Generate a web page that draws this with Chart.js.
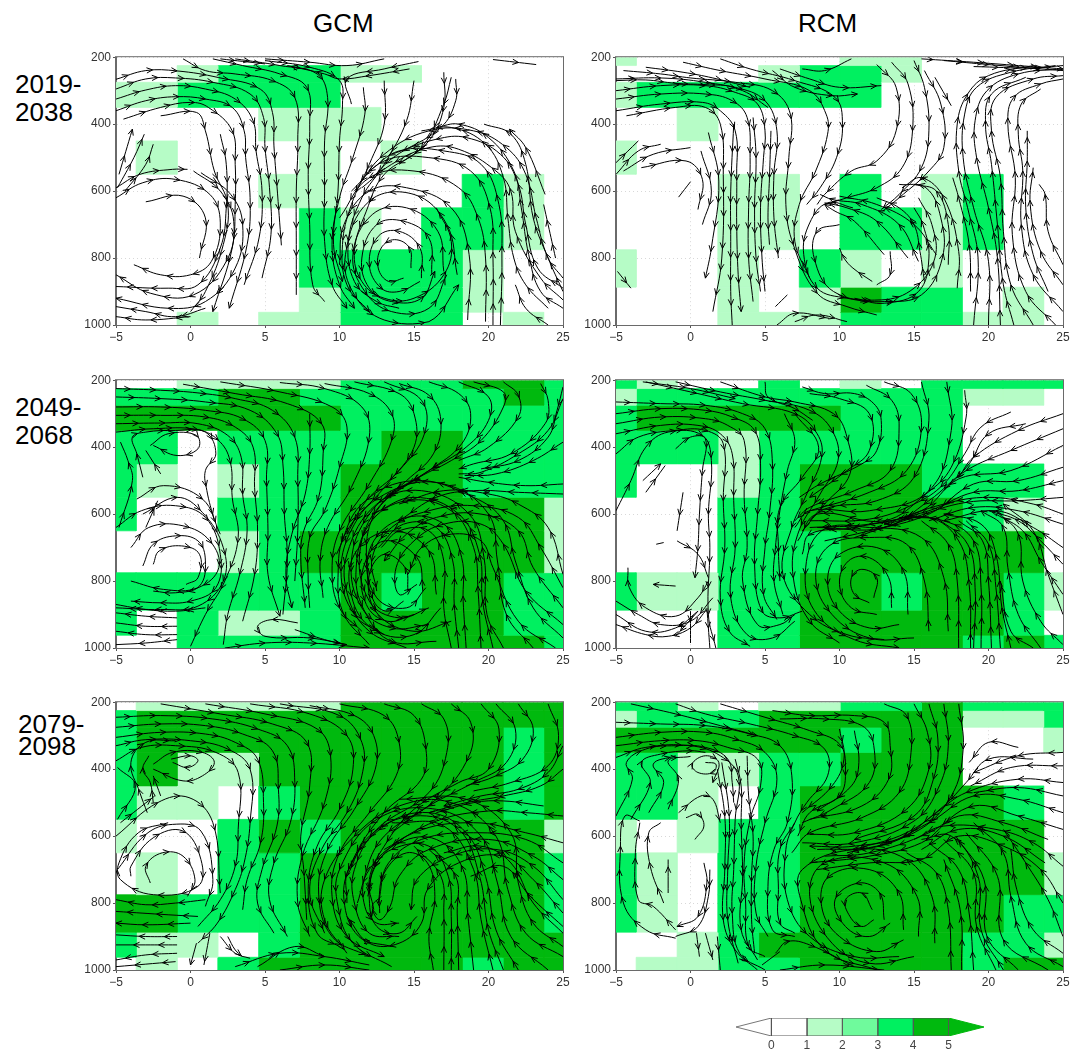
<!DOCTYPE html>
<html>
<head>
<meta charset="utf-8">
<title>GCM / RCM</title>
<script src="https://cdn.jsdelivr.net/npm/chart.js@4"></script>
<style>
  body { margin: 0; background: #fff; width: 1081px; height: 1052px; overflow: hidden; position: relative; font-family: "Liberation Sans", Arial, sans-serif; color: #000; }
  canvas { position: absolute; }
  .t { position: absolute; font-size: 26px; line-height: 28px; white-space: nowrap; }
</style>
</head>
<body>
<div class="t" style="left:313px;top:9px">GCM</div>
<div class="t" style="left:798px;top:9px">RCM</div>
<div class="t" style="left:15px;top:70px">2019-<br>2038</div>
<div class="t" style="left:15px;top:393px">2049-<br>2068</div>
<div class="t" style="left:18px;top:713px;line-height:22px">2079-<br>2098</div>
<script>
// longitude cell edges and pressure level edges of the shaded grid
const xEdges = [-5, -3.65, -0.9, 1.83, 4.57, 7.3, 10.03, 12.77, 15.5, 18.23, 20.97, 23.7, 25];
const yEdges = [200, 225, 275, 350, 450, 550, 650, 775, 887, 962, 1000];
const xTicks = [-5, 0, 5, 10, 15, 20, 25];
const yTicks = [200, 400, 600, 800, 1000];
const barLevels = [0, 1, 2, 3, 4, 5];
const binColors = ["#ffffff", "#b6fcc6", "#6ffa9c", "#00f060", "#00b90e"];

// shading bin per cell: 0 = below 1, 1 = 1-2, 2 = 2-3, 3 = 3-4, 4 = 4-5
const gcm2019Cells = [
  [0,0,0,0,0,0,0,0,0,0,0,0],
  [0,0,1,3,3,3,1,1,0,0,0,0],
  [1,1,3,3,3,3,0,0,0,0,0,0],
  [0,0,0,0,1,1,1,0,0,0,0,0],
  [0,1,0,0,0,1,0,1,0,0,0,0],
  [0,0,0,0,1,1,0,0,0,3,1,0],
  [0,0,0,0,0,3,1,0,3,3,1,0],
  [0,0,0,0,0,3,3,3,3,1,0,0],
  [0,0,0,0,0,1,3,3,3,1,0,0],
  [0,0,1,0,1,1,3,3,3,0,1,0]
];
const rcm2019Cells = [
  [1,0,0,0,0,0,1,1,0,0,0,0],
  [0,0,0,0,1,3,3,1,0,0,0,0],
  [1,3,3,3,3,3,3,0,0,0,0,0],
  [0,0,1,0,0,0,0,0,0,0,0,0],
  [1,0,0,0,0,0,0,0,0,0,0,0],
  [0,0,0,1,1,0,3,0,1,3,0,0],
  [0,0,0,1,1,0,3,3,1,3,0,0],
  [1,0,0,1,0,3,1,0,1,0,0,0],
  [0,0,0,1,0,1,4,3,3,0,1,0],
  [0,0,0,1,1,1,3,3,3,1,1,0]
];
const gcm2049Cells = [
  [0,0,1,1,1,1,3,3,3,4,4,3],
  [3,3,3,4,4,3,3,3,3,3,4,3],
  [4,4,4,4,4,4,3,3,3,3,3,3],
  [3,3,0,3,3,3,3,4,4,3,3,3],
  [3,1,0,1,3,3,4,4,4,3,3,3],
  [3,0,0,3,3,3,4,4,4,4,4,1],
  [0,0,0,1,3,4,4,4,4,4,4,1],
  [3,3,3,3,3,3,4,3,4,4,3,3],
  [3,0,3,1,1,3,4,4,4,4,3,3],
  [0,0,3,3,3,3,4,4,4,4,4,3]
];
const rcm2049Cells = [
  [3,1,0,0,3,0,1,0,3,3,3,3],
  [1,3,3,3,3,3,3,3,3,1,1,0],
  [3,4,4,4,4,4,3,3,3,0,0,0],
  [3,3,3,1,3,3,3,3,3,0,0,0],
  [3,0,0,1,3,4,4,4,3,3,3,0],
  [0,0,0,3,3,4,4,4,4,3,1,0],
  [0,0,0,3,3,3,4,4,4,4,4,0],
  [3,1,1,3,3,4,4,3,4,4,3,1],
  [0,0,0,3,3,4,4,4,4,4,3,0],
  [0,0,0,3,3,4,4,4,4,3,4,3]
];
const gcm2079Cells = [
  [0,1,1,1,1,1,4,4,4,4,4,4],
  [3,4,4,4,4,4,4,4,4,4,4,4],
  [3,4,4,4,4,4,4,4,4,4,3,4],
  [3,4,1,1,4,4,4,4,4,4,3,4],
  [3,1,1,0,3,4,4,4,4,4,3,4],
  [1,0,0,3,4,3,4,4,4,4,4,1],
  [0,1,0,3,3,4,4,4,4,4,4,3],
  [4,4,3,3,3,4,4,4,4,4,4,3],
  [3,1,1,0,3,4,4,4,4,4,4,4],
  [0,1,0,3,4,4,4,4,4,3,4,4]
];
const rcm2079Cells = [
  [3,3,1,0,1,1,3,3,4,3,3,3],
  [1,3,3,3,4,4,4,4,4,1,1,3],
  [4,4,4,4,4,4,3,4,4,0,0,1],
  [3,3,1,1,3,3,4,4,4,0,0,0],
  [3,3,1,0,3,4,4,4,4,4,3,0],
  [1,0,1,3,3,4,4,4,4,4,4,0],
  [3,1,0,3,3,4,4,4,4,4,4,1],
  [3,1,0,3,3,4,4,4,4,4,3,3],
  [0,0,1,3,4,4,4,4,4,3,3,1],
  [0,1,1,3,3,4,4,4,4,3,4,4]
];

// streamlines, each one [lon, hPa, lon, hPa, ...] in flow direction
const gcm2019Lines = [
  [-5,266,-3,240,-0.9,241,1.9,261,4.7,296,5.5,365,5.6,465,5.8,583,6.1,762],
  [-5,295,-3,265,-1,262,1.5,275,4,310,4.9,380,5,470,5.3,590,5.4,730,4.8,860],
  [-5,325,-3,298,-1,285,1,295,3,325,4.2,390,4.4,480,4.8,600,4.6,740,3.6,880],
  [-5,360,-3,330,-1,318,1,325,2.8,350,3.6,420,3.7,500,4,620,3.8,760,2.6,950],
  [-4.5,385,-2,350,0,335,1.2,350,2.8,420,3,520,3,640,2.8,770,1.5,960],
  [-2,375,0.4,365,1,420,1.6,540,2.5,640,2.2,760,1,900,0,960],
  [-0.5,205,1,240,3,250,5.5,270,7,320,7.2,450,7.1,600,7.1,760,7.1,910],
  [1.5,205,3.5,225,6,250,7.8,290,8,400,7.9,550,8,700,8.2,880,9,930],
  [3,205,6,225,8.5,250,9.2,320,9,450,9,600,9,750,9.5,880,10.5,950],
  [5,210,8,230,10,270,10.2,340,10,450,9.9,600,9.6,760,10.2,870],
  [15.3,213,13,235,10.5,265,10.8,340],
  [14.7,235,12,255,10,265,9,250,6.5,225],
  [11.6,290,11.7,370,10.9,500,10,620,9.5,760,10,880,11,950],
  [13,270,13,400,12,520,10.8,640,10.2,760,10.5,880,12,960],
  [15,270,14.5,390,13,520,11.5,620,10.6,750,11,870,12.5,930,14,950],
  [17.5,260,17,340,15.5,470,13,550,11.8,660,11,780,11.5,870,13,920,15,920,17,850,17.5,750,16.5,650],
  [17.8,265,17.8,330,16.8,410,13.6,500,12.2,560],
  [14.8,830,14.7,770,13.7,745,12.8,770,12.6,830,13.3,870,14.3,860],
  [15.5,860,15.4,770,14,720,12.6,735,12,820,12.8,890,14,900,15.4,870],
  [16.2,850,16,740,14.3,690,12.5,700,11.5,800,12,890,13.5,930,15.5,920,16.4,840],
  [17,840,16.6,720,14.5,650,12.2,670,10.9,790,11.7,900,13.5,960,16,950,17.2,850],
  [17.9,850,17.2,700,15,610,12,630,10.4,790,11,910,13,985,16,990,18,880],
  [18.6,985,18.7,790,17.5,650,14.5,590,12,600,10.3,700,10,820],
  [19.8,990,19.8,800,19.3,680,18,590,15,540,12,560,10,680],
  [20.3,1000,20.3,800,20.1,650,18.8,540,16,500,13,510,10.8,600],
  [25,925,23.5,860,21.8,720,21.5,600,20.5,540,18,475,16,470,13.5,520,11.5,590],
  [25,890,23.3,830,22.5,700,22,580,20.8,490,18.5,440,16.5,445,13.5,490],
  [25,860,24,800,23.2,680,22.5,550,21.2,470,19,420,16,420,13,490,11,600],
  [24,950,22.5,880,21.7,800,21.3,680,21,560,19.8,460,17.5,410,15.5,420],
  [25,900,24,800,23,680,22.5,520,21.5,430,19.7,400],
  [23.8,610,22.5,470,21.4,415],
  [24.5,800,24,700,23.7,640],
  [25,950,23.5,900,22.7,790,22.2,650,21.7,540,20,440,18,400,16.5,410],
  [20.8,1000,20.9,800,20.7,640,19.5,520,17,480,14,480,12,540],
  [24,1000,22.5,950,21.8,880],
  [2,430,2.4,520,2.4,650,2,770,0.5,880,-1.5,890,-5,885],
  [2,205,5,220],
  [5,205,8,215,10.5,225,13,205],
  [-3,632,-0.5,615,1,680,0.6,800],
  [-5,620,-3.2,575,-1,565,1.3,610,2,695,1.4,810,0,850,-2,850,-3.8,820],
  [-5,590,-3.4,550,-1.2,535,-0.2,535],
  [0.2,540,2,600,2.9,690,2.4,810,0.2,910,-2.7,905,-5,850],
  [0.7,545,2.7,610,3.5,700,3,830,1,930,-1.5,950,-5,920],
  [1,950,-1,975,-3,960,-5,945],
  [0,975,-3,985,-5,975],
  [-4.8,550,-3.9,415],
  [-4.9,590,-3.8,500,-3.1,430],
  [-4.4,600,-3,520,-2.5,460],
  [20.3,207,23.2,222],
  [17,245,17,350,16,450,14,520]
];
const rcm2019Lines = [
  [-5,300,-2,285,1,285,3,305,4.5,340,5,420,4.9,500,4.7,650,4.8,800,5,900],
  [-5,325,-2,310,1,310,2.8,330,3.8,380,4,500,3.9,650,3.9,800,4.2,930],
  [-5,360,-2,340,0.8,335,2,360,3,420,3.1,550,3.1,700,3.2,850,3.4,960],
  [-4.3,375,-1,350,1,350,2,400,2.2,550,2.1,800,1.5,960],
  [-5,270,-3,268,-1,278,1,282,3,290,5,330,5.8,420,5.6,550,5.6,680,5.9,800],
  [-4.5,240,-2,250,0,262,3,275,5.5,300,6.7,370,6.6,500,6.4,640,6.9,760,8.5,905,10.5,945,12.5,970],
  [-0.5,215,2,240,5,265,8,300,9.1,370,9.2,430,8.4,540,7.3,640,7,750,8,860],
  [2,205,4,235,7,270,9.7,320,10.2,400,9.8,500,8.7,590,7.8,640],
  [5.5,240,7,290,9.5,315,11.2,310],
  [6,235,8,265,10,290,12.8,285],
  [7.5,235,9,240,10.8,205],
  [-5,265,-2,262,1,275,3.5,300,5.2,350],
  [-3,230,-0.5,245,1.5,262,4,290],
  [4.2,380,4.4,500,4.3,650,4.4,800,4.7,900],
  [5.4,420,5.3,560,5.2,680,5.3,760],
  [2.9,400,2.7,600,2.7,750,2.7,900,2.8,1000],
  [12.5,222,13.8,290,13.8,420,12.5,510,10.8,540,9,610,8.5,640],
  [13.5,215,14.6,280,14.9,420,14.2,530,12.5,590,10.5,620,9,640],
  [15,210,15.7,290,16,420,15.5,530,14,610,12.8,655],
  [15.7,240,16.8,340,17,470,16,540,14,620,12.9,660],
  [16.4,260,17.5,345],
  [15.3,810,14,700,11.5,640,9.5,625,8.7,610],
  [14.6,800,12.5,690,10.5,650,9,635],
  [13,790,11,690,9.7,660,9,640],
  [16.5,790,15,700,12.5,640,10,615],
  [17.3,820,17.3,700,16.5,600,15,580],
  [15.7,870,15.4,780,15,700,14,650,12.5,620],
  [10.9,650,9.2,635,8,695,7.6,790,8.5,890,10.5,920,13,930,15.5,910,16.9,800,16.8,680,15.8,590,14,580],
  [10,700,8.5,720,8.3,800,9.6,900,12.8,925,15,890,16.4,800,16.2,700,15.3,620],
  [12.2,870,10.9,830,10.3,800,10,770],
  [13.4,780,13.4,850,12.5,880],
  [11,920,13,935,15.3,900,16,800,15.6,700,15,650],
  [17.9,890,18,780,17,620,15.5,560,14.2,590],
  [5.8,1000,7,965,9.3,980],
  [7,990,8.5,970,10.5,990],
  [6.5,910,5.7,945],
  [-5,515,-3.5,450],
  [-5,550,-3.5,480,-2,460],
  [-4.5,540,-2.5,490,0,470],
  [-3.3,530,-0.3,510,0.8,565,0.5,655],
  [0,572,-0.8,618],
  [0.7,480,1.4,600,0.8,700],
  [1.2,425,1.9,570,1.4,770,1,860],
  [20,1000,20,810,19,650,18.3,500,18.4,370,19.2,290,21.5,245,24.5,225],
  [20.8,1000,20.6,800,20,650,19.2,500,19.1,390,19.9,300,22,250,25,235],
  [18.8,900,18.7,760,18,620,17.6,560],
  [19,1000,19.3,800,18.6,650,18,540,17.9,400,18.6,310,20,255,23,225],
  [23,1000,21.5,880,21,720,20.8,560,20.2,420,20.5,320,23,265,25,255],
  [21.7,1000,21,880,20.6,700,20.2,520,19.8,400,20.2,310,22.5,260],
  [24.5,1000,22.5,900,21.6,730,21.8,560,21.3,400,21.7,320,23.5,280,25,265],
  [25,960,23,850,22.2,700,22.3,540,22,430,22.2,340,23.5,295],
  [24,900,23,790,22.5,650,22.6,510,22.6,420],
  [25,880,23.5,780,22.8,640,23,530],
  [25,820,24,720,23.8,610,23.4,580],
  [15.5,205,19,215,22,225,25,235],
  [17,210,20,222,25,240],
  [19,228,23,232,25,225],
  [-4.9,840,-4,890]
];
const gcm2049Lines = [
  [-5,225,-2,230,0.5,238,3,255,5.5,290,7,370,7.2,500,7.2,650,7,800],
  [-5,250,-2,255,1,265,4,290,5.8,360,6.2,450,6.3,600,6.5,740,6.2,900],
  [-5,280,-2,280,1,290,3.5,315,5,380,5.1,500,5.2,650,5.2,780,6,905],
  [-5,305,-2,305,1,310,3,340,4.2,400,4.3,520,4.5,650,4.3,780,3.5,920],
  [-5,330,-2,328,0.5,330,2.5,365,3.4,430,3.5,540,3.8,650,3.3,780,2.5,900,2.2,990],
  [-5,355,-2.5,345,0.5,348,2,385,2.7,450,2.8,550,3.2,670,2.3,800,1,900,0,995],
  [-0.5,212,3,240,6.5,270,8.8,330,8.9,420,8.6,550,7.6,650,7.4,730,7.7,880],
  [2,205,6,235,9.5,280,10.5,340,10,460,9,590,8,670,7.9,800,8,880],
  [8,300,8,420,7.7,540,6.8,660,6.4,780,6.8,880],
  [6,207,9,225,11.5,280,12,370,10.8,520,9.2,640,8.7,740,8.9,850],
  [9,210,12,240,13.5,300,13.5,380,12,510,10,650,9.5,770,10,880,11.5,950],
  [11,205,14,240,15,300,15,400,13.2,510,11,630,10.1,770,11,900,13,960],
  [13,205,15.5,260,15.7,360,14,470,11.8,560,10.5,660],
  [14,210,16,245,16.8,320,16.3,420,14.5,500,12,600,10.8,740,11.5,880,13.5,940,16,930],
  [16,205,18,240,18.8,300,18.2,390,16,470,13,560,11.4,700,12,860,14,910,16,880],
  [18,205,20,250,20,320,18.5,400,16,470,13.5,540],
  [19,205,21,235,21,280,19.5,380,17.5,440,15,500,12.5,590,11.8,720,12.5,850,14.5,880,15.8,820],
  [21,205,22,245,22,310,20,400,18,440],
  [23.5,210,24,260,23.8,330,21.5,420,19,450,18,465],
  [25,220,24.6,290,24,370,22,440,19.5,465],
  [25,255,24,350,22,420,19.5,475,18,480],
  [25,385,23,440,20.5,480,18.4,485],
  [25,510,22.5,515,20,505,18,490],
  [25,540,22,535,19,530,16.5,550,14,620],
  [25,780,24,640,22,570,20,540,17,530,14,570],
  [25,820,23.5,700,22,610,19,575,16,590,13.5,640,12.2,730,12.5,830],
  [25,880,23,760,22,650,19.5,600,16.5,610,14.5,660,13,740],
  [25,930,22.5,830,21,690,19.5,630,17,630,15,680,13.8,760,14,840,15.2,810],
  [25,970,23,880,21.8,740,21,620,19,550,15,500,11.5,570,9.8,720],
  [24.5,1000,22,920,20.3,760,19.5,680,17.5,660,15.5,700,14.6,780],
  [14.6,830,14.4,760,13,720,12,780,12.3,860,13.2,890,14.3,860],
  [15.6,830,15.2,730,13,680,11.6,760,11.8,870,13.2,920,15,900],
  [16.5,840,16,710,13.5,650,11,720,10.9,860,12.5,950,15,960,16.8,880],
  [17.5,1000,17,880,17,740,16,650,14,650,12.8,700],
  [18,1000,17.7,870,17.6,740,16.5,640,14.3,630,12.6,700],
  [18.5,1000,18.3,860,18.2,730,17,630,14.5,610,12.3,680,11.9,800,12.6,900,15,950,17.5,920],
  [19.5,1000,19.3,830,19,700,17.5,590,14.5,560,12,630,11.1,780,11.8,900,13.5,980,16.5,980],
  [20.3,1000,19.6,860,19.4,720,18,600,15,550,12.2,600],
  [21,1000,19.9,900,19.7,730,18.7,600,15.5,530,12.5,570,10.5,720,10.6,850,12,950,14.5,1000],
  [23,1000,21.2,900,20.6,740,20,600,17,510,13.5,530,10.5,650,9.9,790,10.3,900,12,990],
  [-2.5,750,-2.1,710,-0.6,695,0.6,720,0.5,790,-0.3,810],
  [-3.2,755,-2.5,690,-1,665,0.5,680,1,740,0.6,815,-1,835,-2.5,830],
  [-4,700,-2.8,640,-0.5,635,1.3,680,1.9,760,0.5,820,-1.8,825,-4,800],
  [-5,640,-3.3,590,-1,575,1,610,2,720,1.7,820,0,860,-2,865,-4,860],
  [-3.2,600,-0.9,550,0.8,595,2.2,700,2.2,800,0.5,875,-2,885,-5,880],
  [-3.6,555,-1.8,515,0.8,555,2,660],
  [-2.7,395,-1.5,360,0.4,365,0.5,405,-0.9,425,-2.5,395],
  [-4.8,640,-3.9,500,-4.2,440,-4.7,385],
  [-3.2,490,-3.6,420,-3.9,370,-3,355,-1,350,1,355,1.7,420,1,470,1.1,530,1.6,620],
  [-2,480,-3,410],
  [-3,640,-2.2,560],
  [-0.9,910,-3,905,-5,895],
  [-0.9,935,-3,935,-5,925],
  [-0.9,960,-3,960,-5,950],
  [-0.9,975,-3,985,-5,990],
  [1,880,-1,890,-3,885,-5,870],
  [7.2,925,5.5,915,4.5,935,5,965,8,970,10.5,990],
  [2.3,1000,5,985,8,985,12,1000],
  [7,945,9,975,10.5,990]
];
const rcm2049Lines = [
  [-5,265,-2,270,1,275,3.5,300,5,345,5.5,450,5.3,600,5,700,4.9,840,5.8,915],
  [-5,300,-2,285,1,290,2.8,310,4.3,350,4.7,450,4.5,600,4.3,750,4.8,890,6,910,7.5,890],
  [-5,330,-2,310,1,315,2.5,335,3.6,380,3.6,550,3.8,700,3.5,800,4.5,930,6,930,7,900],
  [-5,360,-2,335,0.5,335,2,360,2.8,420,2.9,560,3,700,2.7,850,3.8,960,5.5,970,7,920],
  [-5,420,-3.5,370,-1,350,1,350,2.2,390,2.2,560,2.3,700,2,850,2.6,950,4,995],
  [-5,590,-4,500,-3,400,-1.5,355,0.8,365,1.4,440,1.2,600,1.3,700,1.2,900,1.7,1000],
  [-1,405,0,370,1,375,0.8,470,0.6,600,0.5,700,0.3,790],
  [-3,205,0,235,3.5,270,7,300,8.5,360,8.8,430,7.8,540,6.8,640,6.2,780,8,900,10.5,960,13,975],
  [-1,205,2,235,5,260,8,290,9.5,350,9.9,440,8.7,540,7.2,660,6.9,790,8,920,10,985],
  [2,205,5,250,7,265,9.6,300,10.5,370,10.7,480,9,570,8,620],
  [7,300,8.6,400,7.5,490,6,580,5.9,700,6,800],
  [6.3,300,7,380,6.5,470,6,590,5.7,700,5.6,800,6.2,900],
  [5,205,5.2,250,7,285,8.2,320],
  [7.5,220,9,240,11,240,12.3,270,12.8,320,12.5,410,11.5,450,8.7,510,7.3,550],
  [8,240,10,255,12,300,12,410,10.5,470,8,550],
  [11.8,215,13.5,260,14,340,13.4,470,11,530,8,580,7,620],
  [13,205,14.8,240,15.5,340,14.5,470,12,535,8,590],
  [15.5,205,16,320,15,490,12.5,560,9,585,7.5,650],
  [17.2,205,17.5,350,16,530,12,590,8,590,7,640],
  [18.4,230,18.5,310,17.5,460,15.8,540,13,620,8.5,600,7.2,680],
  [21.5,295,19.5,340,18.4,420,17,510,15,570,12,615,8,620],
  [22.5,330,20,360,18.7,450,17,530],
  [25,300,22,350,19,430,18,490],
  [25,345,21.5,410,18.5,470,16,560,13,640,8.5,640],
  [25,395,21.5,470,18,495,15.5,590,11,640,8,660,7.5,720],
  [25,460,22,500,19,510,16,600,12,650,9,680],
  [25,500,22,530,19,535,16,590,12,630,8,640],
  [25,550,22,560,18.5,565,15,610,11,670],
  [25,600,23,570,20,550,17,570,13,630],
  [25,630,22,590,19,580,16,620],
  [25,700,23,640,20.5,590,17,620],
  [25,750,23.5,680,22,620,20,590],
  [25,840,23.5,740,22.3,650,20.5,600],
  [12.3,850,12.5,790,11.5,765,10.8,790,11,840,12,865],
  [13.5,880,13.3,790,12,730,10.6,740,10,810,10.8,880,12.5,900],
  [14.6,900,14.3,770,12.5,700,10,720,9.2,800,10,890,12,940,14,930],
  [16,950,15.7,800,14.5,690,12,670,9.3,695,8.4,790,9.5,900,12,970,15,970],
  [17.3,950,17,790,15.5,670,12,640,8.8,650,7.7,780,8.5,900,11,975,14,1000],
  [18,1000,17.9,800,17.3,690,15.5,620],
  [18.8,1000,18.7,810,18,680,16,610,13,630],
  [19,1000,19.1,820,18.6,690,16.5,610],
  [19.5,1000,19.5,820,19,680,17,620,14,610],
  [20.2,1000,20,800,19.6,680,18,620],
  [20.8,1000,20.5,820,20,690,18.5,620],
  [21.5,1000,20.9,880,20.5,720,19.5,630,17,600],
  [23,1000,21.5,950,20.8,800],
  [23.5,1000,22,900,21.3,760,21,640,19.5,590],
  [25,990,23.5,920,22.3,800,22,660,20.5,590],
  [25,900,24,780,23,650,21,570],
  [1.2,800,0.5,850,-1,905,-3,880,-4.1,820,-4.2,760],
  [1.5,850,0,920,-2,930,-3.5,900,-5,860],
  [0.5,890,-1,940,-3,950,-5,900],
  [1,890,0,940,-1.5,965,-3,960,-5,930],
  [-1,815,-2.5,810],
  [0,890,0,985],
  [1.1,880,1.3,1000],
  [0.5,890,-1,965],
  [-0.9,680,0.5,720,1.2,790],
  [-0.5,535,-0.9,650],
  [-2.3,690,-1.8,685],
  [-3,535,-1.7,455],
  [-3.2,500,-2,450],
  [-3.2,205,0,225,3,255]
];
const gcm2079Lines = [
  [-5,245,-2,240,1.5,250,4.5,280,6.5,330,7,440,6.7,560,5.6,680,5.3,790,6.5,900],
  [-5,275,-2,265,1,270,3.5,295,5.5,345,5.9,460,5.8,570,4.8,700,4.5,800,5.6,890],
  [-5,305,-2,290,1,295,3,320,4.5,370,4.9,500,4.7,620,3.8,730,3.5,820],
  [-5,330,-3,312,0,315,2.5,340,4,400,4,560,3.6,680,3,760,1.8,860,0.5,920],
  [-5,375,-3.3,335,-1,330,1.7,350,3.2,410,3.2,580,3,690,2,790,0.5,870],
  [-2,205,2,235,5.5,265,7.8,320,8,450,7.4,600,7.6,700,7.8,850],
  [1,205,5,235,8.5,280,9.4,360,9,500,7.5,660,7.2,800,8,900],
  [4,205,8,235,10.5,300,10.9,400,10,520,8.5,630,7.9,760,8.5,890,10,930],
  [6,205,10,240,11.5,320,11.5,420,10.5,530,8.8,640,8,770,9,890],
  [8,210,11,240,12.3,300,12.4,400,11,520,9.2,640,8.6,770,9.5,900,12,960],
  [10,205,13,240,14,320,13.8,420,12,530,10,650,9.5,780,10.5,900,13,960],
  [13,205,15,240,15.8,340,15.5,430,13,530,10.8,680,10.3,790,11.3,900,13.5,930],
  [15.5,205,17,250,17.2,350,16,470,12.5,580,11,700,11,800,12,890,14,900],
  [17.5,205,18.8,260,18.7,360,16.5,490,13,600,11.7,720,11.7,810,12.5,860,14,860],
  [19.5,205,20.7,280,20,400,18,440,15,520,13,630,12,730,12.3,820],
  [20.5,205,21.8,280,21.2,380,19,440,16,510,13.5,590],
  [22,205,23,280,22.3,370,20.5,420,18.5,450],
  [24,205,24.7,300,24,390,21.5,440,19,465],
  [25,330,24,410,22,460,19.5,480,17,510],
  [25,400,23.5,450,21,480,18.5,500,16,530],
  [23.7,510,21,495,19,500,16.5,530],
  [25,540,22.5,530,20,525,16.5,555,13,640],
  [25,620,22.5,590,19,560,15,590,12.5,680,11.9,780],
  [25,680,22.5,610,19,590,15.5,610,13.3,680,12.7,780,12.7,830],
  [25,730,23,660,20,610,16,640,14,720,13.4,810,12.7,850,12.2,810,12.8,780],
  [25,790,23,690,20.5,640,17.5,660,15.2,730,14.8,820],
  [25,830,23,730,21,660,18,680,15.9,760,15.5,860,14,920,12,920,10.5,840],
  [25,870,22.8,780,21,690,18.8,720],
  [25,890,23,800,21.5,680,19.5,630,17,650],
  [16.3,1000,16,900,16.4,780,15.9,680,14.5,650,13,710,12.6,800],
  [17,1000,17,830,16.8,720,15,630],
  [17.5,1000,17.5,840,17.3,720,16,630,13.5,640,12.3,700,12,790,12.5,870,14,890,15.2,840],
  [18,1000,17.9,830,17.8,720,16,640],
  [19,1000,18.6,830,18.3,700,16.5,610,14,620,12,700,11.2,800],
  [20.3,1000,19.5,850,19,700,17,570,13.5,560],
  [21,1000,20,880,19.4,720,18,580,15,540,12,600,10.5,720],
  [22,1000,20.5,880,19.8,720,18.5,590,16,530,13,570,10.6,700,10.5,800],
  [24,1000,21.5,900,20.6,740,19.5,600,16.5,520,12.5,550,10,700,9.9,810,10.9,920,13.5,990],
  [25,960,22.5,890,21.3,760,20.5,600,17.5,500,14,510,11,600,9,730,9,850,10.5,950],
  [25,930,23,860,22,740,21.5,590,18.5,490,14,490],
  [-2.7,740,-3,690,-1.9,650,-0.5,660,0.3,730,-0.2,780],
  [-4,720,-4,690,-2.5,605,-0.5,585,0.7,670,0.5,750,-2.5,775,-4.7,730,-4.8,680,-3.5,590,-1.5,560],
  [-4.9,700,-3,595,-1.2,565,0.7,585,1.5,730,1,810],
  [-5,600,-2.2,500,-0.1,485,1.5,560,2,770],
  [-4.7,560,-2.4,480],
  [-1.3,370,0,360,0.5,375,-0.2,395,-1.2,380],
  [-2.5,385,-1.2,350,0.8,350,1.6,380,0.8,420,-0.5,435,-2.5,400],
  [-4.9,550,-3.7,450,-4.9,395],
  [-2.9,530,-3.4,470,-4,380,-3,320,-1,315],
  [-2.5,500,-2.7,440,-3.2,400,-2.8,360],
  [-2,480,-2.5,420],
  [1,790,-1,800,-3,805,-5,790],
  [0.5,840,-1.5,835,-5,825],
  [0,860,-3,865,-5,860],
  [-0.9,900,-3,900,-5,895],
  [-0.9,925,-3,925,-5,925],
  [-0.9,950,-3,955,-5,970],
  [-1,975,-5,990],
  [0.4,920,0,985],
  [1.3,890,0.9,985],
  [2,900,3,950,4,965],
  [2.5,900,3,940,3.5,960],
  [3,990,6,950,9,960,12,985],
  [6,1000,9,985,12,1000],
  [4.5,990,7,930,9,960]
];
const rcm2079Lines = [
  [-5,260,-2,265,1,270,4,295,6,330,6.8,420,6.5,560,5.6,640,5.2,750,5.5,880,7,900],
  [-5,305,-2,290,1,290,3,310,5,350,5.8,430,5,560,4.4,690,4.4,830,5.2,900],
  [-5,330,-2,315,0.5,315,2.5,335,4.5,370,4.7,450,4,550,3.6,680,3.7,800,3.9,930,5,960],
  [-5,365,-3,335,0,330,2,360,3.2,420,3,550,2.9,700,2.8,830,3.3,950,5,1000],
  [-1,205,1,235,4,265,7,300,9,340,9.2,420,7.8,500,7,560,6.4,640,6.5,790,8,900,11,960,14,960],
  [2,205,5,245,8,285,10,325,10.4,400,10,480,8,530,7.2,600],
  [5.5,225,8,240,11,240,13,260,13.4,330,13.3,430,11.5,510,8,550],
  [6,250,9,250,11.5,270,12.3,330,12,440,9.5,520,7.5,560],
  [10,280,10.3,370,9.5,450,7.5,530],
  [11,285,11.3,380,10.8,450,8.5,525],
  [13,205,14.5,240,14.8,350,14,470,11.5,545,8,590,6.8,650],
  [15,205,15.9,290,16,400,14.5,520,11,590,8,595],
  [16,205,16.6,310,16.3,430,15,540,11,610],
  [17,205,17.3,330,16.7,450,15,555,11,620,7.5,620],
  [18,205,18.3,340,17.5,480,15,590,11,630,8,630],
  [22,335,20,320,18.7,380],
  [25,350,22,360,19,410],
  [23,370,20,370,18.5,440,17,510,14.5,590,11,640],
  [25,390,21.5,395,18.8,450],
  [25,440,22,430,18.5,470,16.5,530,14,610,10.5,650],
  [25,480,22,455,19,470],
  [25,530,22,490,19,480,16,560,12.5,630,8.5,640],
  [25,580,22,540,19,510,16,590,12,650,9,660],
  [24,610,21,560,18,540,15.5,620,12,660,8,680],
  [25,690,23,620,20.5,580,17,570,15,610],
  [23.8,680,21,600,18,580,15.5,640],
  [25,800,23.5,700,21,630,18,600,15.5,670,12,680,8.5,700],
  [12.2,820,11.5,770,10.4,790,10.7,840,11.5,870,12.3,850],
  [13,850,12.7,770,11.3,740,9.7,790,10.4,870,12,900,13.4,860],
  [14.3,880,14,770,12,700,9.3,720,8.8,810,10,900,12.5,945,14.3,910],
  [15.3,900,15.2,780,13,680,9,680,8,780,9.5,920,12,980,15,960],
  [16.4,920,16.2,780,14.5,670,11,640,7.5,700,7.4,790,9,940,12.5,1000],
  [17.5,1000,17.3,820,16.5,710,14.5,650],
  [18.2,1000,18.1,820,17,670],
  [19,1000,18.7,830,18,700,16,620],
  [20.5,1000,19.2,870,19,710,17,610],
  [21,1000,19.5,880,19.3,720,17.5,600,15.5,610],
  [22,1000,19.9,900,19.7,730,17.8,600],
  [24,1000,21,910,20.6,720,18.5,590],
  [25,990,22.5,920,21.5,780,21,650,19,560],
  [25,950,23,880,21.9,760,21.5,640],
  [25,900,24,790,22.5,680,21,580],
  [-1.8,800,-2.7,690,-2.8,590,-2,560],
  [-1.5,770,-1.5,670],
  [-1,880,-2.5,810,-3.5,790,-3.7,650,-3.4,560],
  [-1,905,-3,880,-4.5,800,-4.7,630,-4.4,540,-3.4,555],
  [0.9,680,1.1,740,0.5,840,-0.9,870],
  [1.3,700,1.2,780,0.5,870,-1,900],
  [1,380,1.7,385,1.5,410,0.5,410,0.1,385,1,360,1.9,380,1.5,440],
  [-0.8,530,0.7,480,1.5,490,2,560],
  [-0.3,545,0.5,535,0.9,570,0.3,610],
  [-5,540,-3.9,430,-4.3,380,-3,340,-1,330,1,335,2.5,370,2.8,440,2.9,500],
  [-4,550,-2.7,440,-3.3,380,-2,355,0,345,1,350],
  [-2.8,530,-1.8,440,-2.5,385,-1,360],
  [-1.5,520,-0.8,430,-1.5,375,0,362],
  [1.8,400,2.3,540,2.3,700,2.2,850,3,940,4.5,1000],
  [2.1,380,2.6,540,2.5,700,2.5,850,3.2,980],
  [3,370,3.4,450,3.4,560,3.5,720,3.4,880,4.5,970],
  [3.8,360,3.9,480,4.2,600,4.1,720,4.1,850,4.3,950],
  [7,560,6,640,5.9,760,6,860,7,890],
  [0.4,890,0.6,960],
  [1,890,1.5,970],
  [1.8,900,2,1000],
  [5.7,950,6.5,915,8,925,11,990],
  [4.8,985,6,945],
  [6,1000,9,985,13,1000],
  [-4,205,-1,235,2,270,4.5,300]
];

const panels = [
  { left: 84, top: 48, cells: gcm2019Cells, lines: gcm2019Lines },
  { left: 584, top: 48, cells: rcm2019Cells, lines: rcm2019Lines },
  { left: 84, top: 371, cells: gcm2049Cells, lines: gcm2049Lines },
  { left: 584, top: 371, cells: rcm2049Cells, lines: rcm2049Lines },
  { left: 84, top: 693, cells: gcm2079Cells, lines: gcm2079Lines },
  { left: 584, top: 693, cells: rcm2079Cells, lines: rcm2079Lines }
];

function toPoints(flat) {
  const pts = [];
  for (let i = 0; i < flat.length; i += 2) pts.push({ x: flat[i], y: flat[i + 1] });
  return pts;
}

function rect(x0, x1, y0, y1) {
  return [{ x: x0, y: y0 }, { x: x1, y: y0 }, { x: x1, y: y1 }, { x: x0, y: y1 }, { x: x0, y: y0 }];
}

function head(ctx, x, y, dx, dy) {
  const a = Math.atan2(dy, dx), len = 6.5, w = 0.42;
  ctx.beginPath();
  ctx.moveTo(x - len * Math.cos(a - w), y - len * Math.sin(a - w));
  ctx.lineTo(x, y);
  ctx.lineTo(x - len * Math.cos(a + w), y - len * Math.sin(a + w));
  ctx.stroke();
}

// walks each streamline's bezier segments and puts a barb every so many pixels
const arrowPlugin = {
  id: "arrows",
  afterDatasetsDraw(chart) {
    const ctx = chart.ctx, area = chart.chartArea;
    ctx.save();
    ctx.beginPath();
    ctx.rect(area.left, area.top, area.width, area.height);
    ctx.clip();
    ctx.strokeStyle = "#000";
    ctx.lineWidth = 1;
    chart.data.datasets.forEach((ds, idx) => {
      if (!ds.stream) return;
      const pts = chart.getDatasetMeta(idx).data;
      let next = 10 + (idx * 7) % 18, dist = 0;
      for (let i = 0; i < pts.length - 1; i++) {
        const p = pts[i], q = pts[i + 1];
        let px = p.x, py = p.y;
        for (let s = 1; s <= 10; s++) {
          const t = s / 10, u = 1 - t;
          const x = u*u*u*p.x + 3*u*u*t*p.cp2x + 3*u*t*t*q.cp1x + t*t*t*q.x;
          const y = u*u*u*p.y + 3*u*u*t*p.cp2y + 3*u*t*t*q.cp1y + t*t*t*q.y;
          dist += Math.hypot(x - px, y - py);
          if (dist >= next) {
            head(ctx, x, y, x - px, y - py);
            next += 26;
          }
          px = x; py = y;
        }
      }
    });
    ctx.restore();
  }
};

const framePlugin = {
  id: "frame",
  afterDraw(chart) {
    const a = chart.chartArea, ctx = chart.ctx;
    ctx.save();
    ctx.strokeStyle = "#6a6a6a";
    ctx.lineWidth = 1;
    ctx.strokeRect(a.left - 0.5, a.top - 0.5, a.width + 1, a.height + 1);
    ctx.restore();
  }
};

panels.forEach(p => {
  const canvas = document.createElement("canvas");
  canvas.width = 489;
  canvas.height = 297;
  canvas.style.left = p.left + "px";
  canvas.style.top = p.top + "px";
  document.body.appendChild(canvas);

  const datasets = p.lines.map(flat => ({
    data: toPoints(flat), showLine: true, stream: true, borderColor: "#000", borderWidth: 1,
    pointRadius: 0, tension: 0.4, fill: false, order: 0
  }));
  p.cells.forEach((row, r) => row.forEach((bin, c) => {
    if (!bin) return;
    datasets.push({
      data: rect(xEdges[c], xEdges[c + 1], yEdges[r], yEdges[r + 1]), showLine: true,
      backgroundColor: binColors[bin], borderColor: binColors[bin], borderWidth: 0.7,
      pointRadius: 0, tension: 0, fill: "shape", order: 1
    });
  }));

  new Chart(canvas, {
    type: "scatter",
    data: { datasets },
    plugins: [arrowPlugin, framePlugin],
    options: {
      responsive: false,
      animation: false,
      events: [],
      devicePixelRatio: 1,
      layout: { autoPadding: false, padding: { top: 8, right: 10, left: 0, bottom: 0 } },
      plugins: { legend: { display: false }, tooltip: { enabled: false } },
      scales: {
        x: {
          type: "linear", min: -5, max: 25,
          afterFit: s => { s.height = 20; },
          afterBuildTicks: s => { s.ticks = xTicks.map(v => ({ value: v })); },
          grid: { color: "#d8d8d8", tickColor: "#555", tickLength: 3, tickBorderDash: [] },
          border: { dash: [1, 3], color: "#6a6a6a" },
          ticks: { color: "#333", font: { family: "Liberation Sans", size: 12 }, padding: 2, maxRotation: 0, autoSkip: false,
            callback: v => v < 0 ? "\u2212" + Math.abs(v) : String(v) }
        },
        y: {
          type: "linear", min: 200, max: 1000, reverse: true,
          afterFit: s => { s.width = 32; },
          afterBuildTicks: s => { s.ticks = yTicks.map(v => ({ value: v })); },
          grid: { color: "#d8d8d8", tickColor: "#555", tickLength: 3, tickBorderDash: [] },
          border: { dash: [1, 3], color: "#6a6a6a" },
          ticks: { color: "#333", font: { family: "Liberation Sans", size: 12 }, padding: 2, autoSkip: false,
            callback: v => String(v) }
        }
      }
    }
  });
});

// colour bar
const barCanvas = document.createElement("canvas");
barCanvas.width = 270;
barCanvas.height = 42;
barCanvas.style.left = "726px";
barCanvas.style.top = "1010px";
document.body.appendChild(barCanvas);

const barDatasets = binColors.map((col, i) => ({
  data: rect(barLevels[i], barLevels[i + 1], 0, 1), showLine: true, backgroundColor: col,
  borderColor: "#555", borderWidth: 1, pointRadius: 0, tension: 0, fill: "shape"
}));
barDatasets.push({
  data: [{ x: 0, y: 0 }, { x: -1, y: 0.5 }, { x: 0, y: 1 }], showLine: true, backgroundColor: "#fff",
  borderColor: "#777", borderWidth: 1, pointRadius: 0, tension: 0, fill: false
});
barDatasets.push({
  data: [{ x: 5, y: 0 }, { x: 6, y: 0.5 }, { x: 5, y: 1 }, { x: 5, y: 0 }], showLine: true, backgroundColor: "#00b90e",
  borderColor: "#00b90e", borderWidth: 1, pointRadius: 0, tension: 0, fill: "shape"
});

new Chart(barCanvas, {
  type: "scatter",
  data: { datasets: barDatasets },
  options: {
    responsive: false,
    animation: false,
    events: [],
    devicePixelRatio: 1,
    layout: { autoPadding: false, padding: { left: 10, right: 12, top: 8, bottom: 0 } },
    plugins: { legend: { display: false }, tooltip: { enabled: false } },
    scales: {
      x: {
        type: "linear", min: -1, max: 6,
        afterFit: s => { s.height = 16; },
        afterBuildTicks: s => { s.ticks = barLevels.map(v => ({ value: v })); },
        grid: { display: false, drawTicks: false },
        border: { display: false },
        ticks: { color: "#444", font: { family: "Liberation Sans", size: 12 }, padding: 2, maxRotation: 0, autoSkip: false }
      },
      y: { type: "linear", min: 0, max: 1, display: false }
    }
  }
});
</script>
</body>
</html>
